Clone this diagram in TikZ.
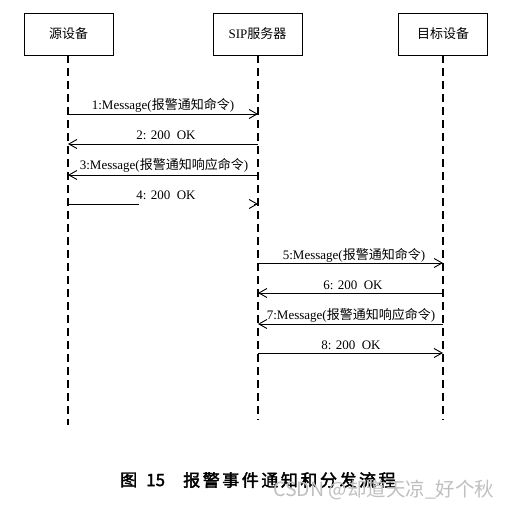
\documentclass[tikz,border=0pt]{standalone}
\usepackage{fontspec}
\setmainfont{Liberation Serif}
\newfontfamily\cjk{Noto Sans CJK SC}
\newfontfamily\cjkbf[FakeBold=2]{Noto Sans CJK SC}
\usetikzlibrary{arrows.meta}
\tikzset{
  actor/.style={draw, line width=0.9pt, minimum width=89pt, minimum height=42pt, inner sep=0pt, font=\fontsize{13}{15}\selectfont},
  life/.style={line width=1.6pt, dash pattern=on 8pt off 5pt},
  msg/.style={line width=0.9pt, -{Straight Barb[length=8pt,width=9pt,line width=0.9pt]}},
  plain/.style={line width=0.9pt},
  lbl/.style={anchor=base, inner sep=0pt, font=\fontsize{13}{15}\selectfont},
  captext/.style={anchor=west, inner sep=0pt, font=\cjkbf\fontsize{17}{19}\selectfont},
  wmtext/.style={anchor=west, inner sep=0pt, text=black!25, font=\cjk\fontsize{19.5}{22}\selectfont},
}
\begin{document}
\begin{tikzpicture}[x=1pt,y=-1pt]
\useasboundingbox[fill=white] (0,0) rectangle (509,508);
% actors
\node[actor] (A) at (68.5,34) {{\cjk 源设备}};
\node[actor] (B) at (257.5,34) {SIP{\cjk 服务器}};
\node[actor] (C) at (443,34) {{\cjk 目标设备}};
% lifeline ends
\coordinate (Ae) at (68,425);
\coordinate (Be) at (258,420);
\coordinate (Ce) at (443,420);
\draw[life] (A.south -| Ae) -- (Ae);
\draw[life] (B.south -| Be) -- (Be);
\draw[life] (C.south -| Ce) -- (Ce);
% message end points
\foreach \i/\y in {1/114,2/144,3/175,4/204,5/263,6/293,7/324,8/353}{
  \coordinate (a\i) at (68,\y);
  \coordinate (b\i) at (258,\y);
  \coordinate (c\i) at (443,\y);
}
\coordinate (h4) at (139,204);
\coordinate (t4) at (254,204);
% messages
\draw[msg] (a1) -- (b1);
\draw[msg] (b2) -- (a2);
\draw[msg] (b3) -- (a3);
\draw[plain] (a4) -- (h4);
\draw[msg] (t4) -- (b4);
\draw[msg] (b5) -- (c5);
\draw[msg] (c6) -- (b6);
\draw[msg] (c7) -- (b7);
\draw[msg] (b8) -- (c8);
% labels
\node[lbl] (l1) at (163,110) {1:Message({\cjk 报警通知命令})};
\node[lbl] (l2) at (166,140) {2: 200\ \ OK};
\node[lbl] (l3) at (164,170) {3:Message({\cjk 报警通知响应命令})};
\node[lbl] (l4) at (166,200) {4: 200\ \ OK};
\node[lbl] (l5) at (354,259) {5:Message({\cjk 报警通知命令})};
\node[lbl] (l6) at (353,289) {6: 200\ \ OK};
\node[lbl] (l7) at (351,319) {7:Message({\cjk 报警通知响应命令})};
\node[lbl] (l8) at (351,349) {8: 200\ \ OK};
% caption
\node[captext] (c1) at (120,480) {图\hspace{9pt}15};
\node[captext] (c2) at (183,480) {\makebox[210pt][s]{报 警 事 件 通 知 和 分 发 流 程}};
\node[wmtext] (w) at (273,490) {CSDN @却道天凉\_好个秋};
\end{tikzpicture}
\end{document}
